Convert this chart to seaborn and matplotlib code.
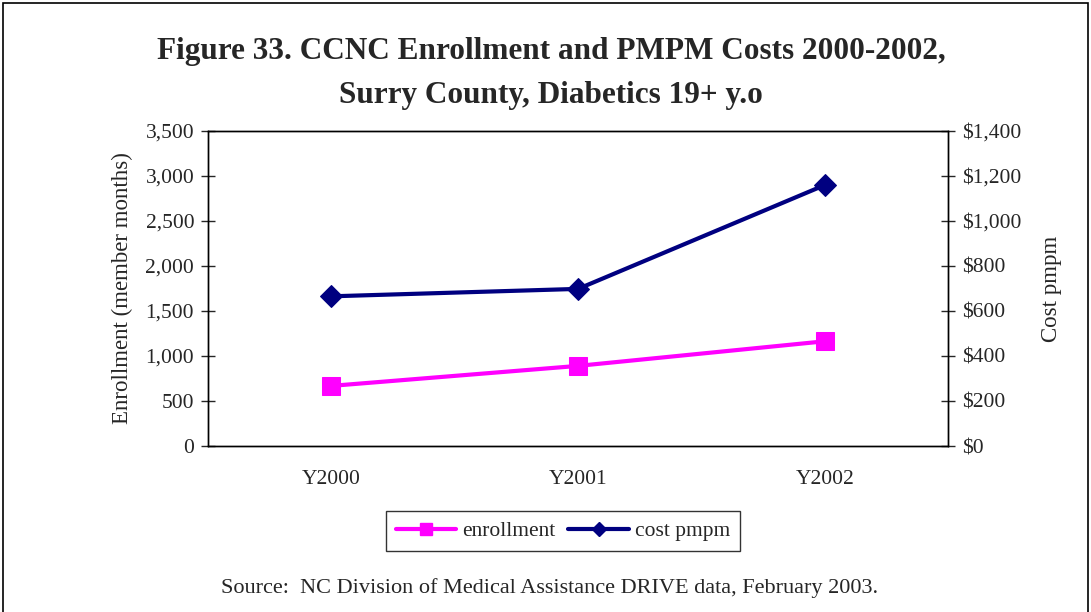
import pandas as pd
import seaborn as sns
import matplotlib.pyplot as plt
from matplotlib.lines import Line2D
from matplotlib.patches import Rectangle
from matplotlib.ticker import FuncFormatter, MultipleLocator

years = ["Y2000", "Y2001", "Y2002"]
enrollment = [668, 890, 1163]
cost_pmpm = [665, 698, 1159]

sns.set_style("white")
plt.rcParams["font.family"] = ["Liberation Serif", "DejaVu Serif"]

df = pd.DataFrame({"year": years, "enrollment": enrollment, "cost": cost_pmpm})

fig = plt.figure(figsize=(10.91, 6.12), dpi=100)
ax = fig.add_axes([0.1907, 0.2712, 0.6783, 0.515])
ax2 = ax.twinx()

pink = "#FF00FF"
navy = "#000080"

sns.lineplot(data=df, x="year", y="enrollment", ax=ax, color=pink, lw=3,
             marker="s", markersize=13, markeredgecolor=pink, legend=False)
sns.lineplot(data=df, x="year", y="cost", ax=ax2, color=navy, lw=3,
             marker="D", markersize=11, markeredgecolor=navy, legend=False)

ax.set_xlim(-0.5, 2.5)
ax.set_ylim(0, 3500)
ax2.set_ylim(0, 1400)
ax.yaxis.set_major_locator(MultipleLocator(500))
ax2.yaxis.set_major_locator(MultipleLocator(200))
ax.yaxis.set_major_formatter(FuncFormatter(lambda v, p: f"{v:,.0f}"))
ax2.yaxis.set_major_formatter(FuncFormatter(lambda v, p: f"${v:,.0f}"))

# category boundaries as major ticks, labels on minor ticks
ax.set_xticks([-0.5, 0.5, 1.5, 2.5])
ax.set_xticklabels([])
ax.set_xticks([0, 1, 2], minor=True)
ax.set_xticklabels(years, minor=True)
ax.tick_params(axis="x", which="minor", length=0, pad=17, labelsize=15.5)
ax.tick_params(axis="x", which="major", direction="inout", length=10, width=1)
ax.tick_params(axis="y", direction="inout", length=10, width=1, labelsize=15.5, pad=5)
ax2.tick_params(axis="y", direction="inout", length=10, width=1, labelsize=15.5, pad=5)

ax.set_xlabel("")
ax.set_ylabel("Enrollment (member months)", fontsize=16.5, labelpad=9)
ax2.set_ylabel("Cost pmpm", fontsize=16.5, labelpad=14)

for a in (ax, ax2):
    for s in a.spines.values():
        s.set_color("black")
        s.set_linewidth(1)

fig.text(0.505, 0.88, "Figure 33. CCNC Enrollment and PMPM Costs 2000-2002,\nSurry County, Diabetics 19+ y.o",
         ha="center", va="center", fontsize=22.5, fontweight="bold", linespacing=1.7)

handles = [
    Line2D([], [], color=pink, lw=3, marker="s", markersize=9),
    Line2D([], [], color=navy, lw=3, marker="D", markersize=7),
]
fig.legend(handles, ["enrollment", "cost pmpm"], loc="center",
           bbox_to_anchor=(0.516, 0.132), ncol=2, frameon=True, fancybox=False,
           edgecolor="black", fontsize=15.5, handlelength=2.8, columnspacing=0.6,
           handletextpad=0.3, borderpad=0.45)

fig.text(0.504, 0.039, "Source:  NC Division of Medical Assistance DRIVE data, February 2003.",
         ha="center", va="center", fontsize=16)

fig.patches.append(Rectangle((0.003, -0.01), 0.994, 1.005, transform=fig.transFigure,
                             fill=False, edgecolor="black", lw=1.2))

fig.savefig("out.png", dpi=100)
